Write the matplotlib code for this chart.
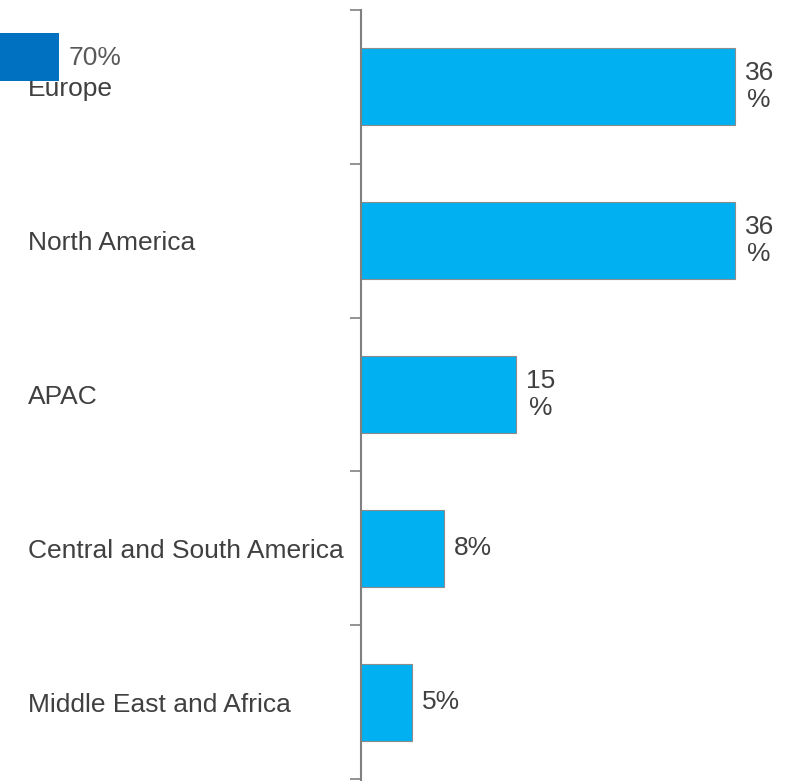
import matplotlib
matplotlib.use("Agg")
import matplotlib.pyplot as plt
from matplotlib.patches import Rectangle

# Share of revenue by region
regions = ["Europe", "North America", "APAC",
           "Central and South America", "Middle East and Africa"]
shares = [36, 36, 15, 8, 5]

legend_value = "70%"

bar_color = "#00B0F0"
text_color = "#404040"
axis_color = "#808080"

plt.rcParams["font.family"] = ["Liberation Sans", "DejaVu Sans"]

W, H = 792, 781
fig = plt.figure(figsize=(W / 100, H / 100), dpi=100)
ax = fig.add_axes([360.5 / W, 1 - 779 / H, 1 - 360.5 / W, (779 - 10) / H])

pos = list(range(len(regions)))
ax.barh(pos, shares, height=0.5, color=bar_color, edgecolor="#8c8c8c", linewidth=0.8)

ax.set_xlim(0, 41.5)
ax.set_ylim(len(regions) - 0.5, -0.5)

# value labels, two-digit values wrap the percent sign onto a second line
for y, v in zip(pos, shares):
    txt = f"{v}\n%" if v >= 10 else f"{v}%"
    ax.annotate(txt, (v, y), xytext=(7, 0), textcoords="offset points",
                ha="left", va="center", multialignment="center",
                fontsize=19, color=text_color, linespacing=1.15)

# category names left-aligned at the figure's left margin
ax.set_yticks(pos)
ax.set_yticklabels(regions, fontsize=19, color=text_color, ha="left")
ax.tick_params(axis="y", which="major", length=0, pad=239.5)

# boundary ticks between categories
ax.set_yticks([p - 0.5 for p in pos] + [len(regions) - 0.5], minor=True)
ax.tick_params(axis="y", which="minor", length=8, width=1.2, color=axis_color, direction="out")

for s in ["top", "right", "bottom"]:
    ax.spines[s].set_visible(False)
ax.spines["left"].set_color(axis_color)
ax.spines["left"].set_linewidth(1.5)
ax.spines["left"].set_bounds(-0.5, len(regions) - 0.48)
ax.xaxis.set_visible(False)

# legend swatch in the top-left corner
fig.add_artist(Rectangle((0, 1 - 81 / H), 59 / W, 48 / H, transform=fig.transFigure,
                         facecolor="#0070C0", edgecolor="none", zorder=10))
fig.text(69 / W, 1 - 58 / H, legend_value, fontsize=19, color="#595959",
         ha="left", va="center", zorder=11)

fig.savefig("out.png", dpi=100)
